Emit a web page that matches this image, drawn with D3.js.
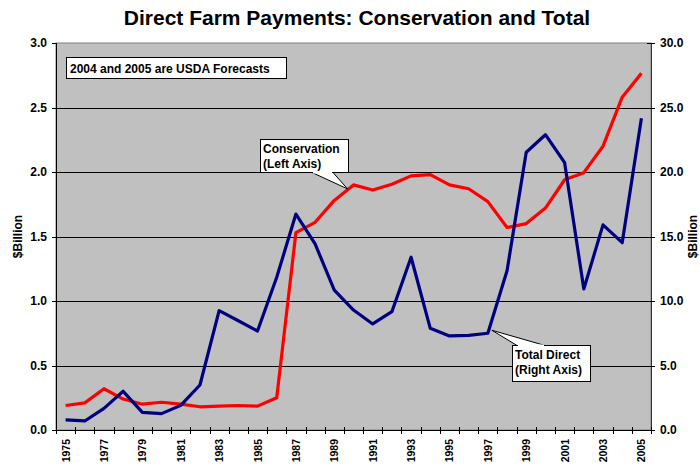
<!DOCTYPE html>
<html>
<head>
<meta charset="utf-8">
<script src="https://cdn.jsdelivr.net/npm/d3@7.9.0/dist/d3.min.js"></script>
<style>
  body { margin: 0; background: #fff; }
  svg { display: block; }
  text { font-family: "Liberation Sans", Arial, sans-serif; font-weight: bold; fill: #000; }
</style>
</head>
<body>
<svg id="chart" width="700" height="466"></svg>
<script>
const years = d3.range(1975, 2006);
// conservation payments, $ billion (left axis)
const conservation = [0.19, 0.21, 0.32, 0.24, 0.20, 0.215, 0.20, 0.18, 0.185, 0.19, 0.185, 0.25,
  1.53, 1.61, 1.78, 1.90, 1.86, 1.905, 1.97, 1.98, 1.90, 1.87, 1.77, 1.57, 1.60, 1.72, 1.94,
  1.995, 2.20, 2.58, 2.765];
// total direct payments, $ billion (right axis)
const totalDirect = [0.78, 0.70, 1.68, 3.0, 1.37, 1.27, 1.91, 3.49, 9.25, 8.47, 7.67, 11.84,
  16.74, 14.42, 10.85, 9.30, 8.22, 9.17, 13.39, 7.88, 7.29, 7.34, 7.50, 12.35, 21.53, 22.89,
  20.72, 10.93, 15.9, 14.52, 24.16];
const leftTicks = [0, 0.5, 1.0, 1.5, 2.0, 2.5, 3.0];
const rightTicks = [0, 5, 10, 15, 20, 25, 30];

const margin = { left: 56, right: 49, top: 43, bottom: 36 };
const W = 700, H = 466;
const svg = d3.select('#chart');

const x = d3.scaleLinear().domain([1974.5, 2005.5]).range([margin.left, W - margin.right]);
const yL = d3.scaleLinear().domain([0, 3]).range([H - margin.bottom, margin.top]);
const yR = d3.scaleLinear().domain([0, 30]).range([H - margin.bottom, margin.top]);

const x0 = margin.left, x1 = W - margin.right, yB = H - margin.bottom, yT = margin.top;

// title
svg.append('text')
  .attr('x', 357).attr('y', 25)
  .attr('text-anchor', 'middle')
  .style('font-size', '21px')
  .text('Direct Farm Payments: Conservation and Total');

// plot area
svg.append('rect')
  .attr('x', x0).attr('y', yT)
  .attr('width', x1 - x0).attr('height', yB - yT)
  .attr('fill', '#c0c0c0')
  .attr('stroke', '#808080');

// gridlines
svg.append('g')
  .selectAll('line')
  .data(leftTicks.slice(1, -1))
  .join('line')
  .attr('x1', x0).attr('x2', x1)
  .attr('y1', d => Math.round(yL(d)) + 0.5).attr('y2', d => Math.round(yL(d)) + 0.5)
  .attr('stroke', '#000');

// left axis
const gL = svg.append('g');
gL.append('line')
  .attr('x1', x0 + 0.5).attr('x2', x0 + 0.5).attr('y1', yT).attr('y2', yB)
  .attr('stroke', '#000');
gL.selectAll('.tk').data(leftTicks).join('line')
  .attr('x1', x0 - 4).attr('x2', x0 + 1)
  .attr('y1', d => Math.round(yL(d)) + 0.5).attr('y2', d => Math.round(yL(d)) + 0.5)
  .attr('stroke', '#000');
gL.selectAll('text').data(leftTicks).join('text')
  .attr('x', x0 - 9).attr('y', d => yL(d) + 4)
  .attr('text-anchor', 'end')
  .style('font-size', '12px')
  .text(d3.format('.1f'));

// right axis
const gR = svg.append('g');
gR.append('line')
  .attr('x1', x1 + 0.5).attr('x2', x1 + 0.5).attr('y1', yT).attr('y2', yB)
  .attr('stroke', '#333');
gR.selectAll('.tk').data(rightTicks).join('line')
  .attr('x1', x1 - 4).attr('x2', x1 + 4)
  .attr('y1', d => Math.round(yR(d)) + 0.5).attr('y2', d => Math.round(yR(d)) + 0.5)
  .attr('stroke', '#000');
gR.selectAll('text').data(rightTicks).join('text')
  .attr('x', x1 + 9).attr('y', d => yR(d) + 4)
  .style('font-size', '12px')
  .text(d3.format('.1f'));

// axis titles
svg.append('text')
  .attr('transform', `translate(22,${(yT + yB) / 2}) rotate(-90)`)
  .attr('text-anchor', 'middle')
  .style('font-size', '12px')
  .text('$Billion');
svg.append('text')
  .attr('transform', `translate(697,${(yT + yB) / 2}) rotate(-90)`)
  .attr('text-anchor', 'middle')
  .style('font-size', '12px')
  .text('$Billion');

// bottom axis
const gB = svg.append('g');
gB.append('line')
  .attr('x1', x0 - 4).attr('x2', x1 + 4).attr('y1', yB + 0.5).attr('y2', yB + 0.5)
  .attr('stroke', '#000');
gB.selectAll('.tk').data(d3.range(1974.5, 2006)).join('line')
  .attr('x1', d => Math.round(x(d)) + 0.5).attr('x2', d => Math.round(x(d)) + 0.5)
  .attr('y1', yB - 3).attr('y2', yB + 4)
  .attr('stroke', '#000');
gB.selectAll('text').data(years.filter(y => y % 2 === 1)).join('text')
  .attr('transform', d => `translate(${x(d) + 4},${yB + 9}) rotate(-90)`)
  .attr('text-anchor', 'end')
  .style('font-size', '10.5px')
  .text(d => d);

// lines
const lineL = d3.line().x((d, i) => x(years[i])).y(d => yL(d));
const lineR = d3.line().x((d, i) => x(years[i])).y(d => yR(d));

svg.append('path')
  .attr('d', lineL(conservation))
  .attr('fill', 'none').attr('stroke', '#ff0000')
  .attr('stroke-width', 3.2).attr('stroke-linejoin', 'round');
svg.append('path')
  .attr('d', lineR(totalDirect))
  .attr('fill', 'none').attr('stroke', '#000080')
  .attr('stroke-width', 3.2).attr('stroke-linejoin', 'round');

// forecast note
const note = svg.append('g');
note.append('rect')
  .attr('x', 66.5).attr('y', 57.5).attr('width', 220).attr('height', 21)
  .attr('fill', '#fff').attr('stroke', '#000');
note.append('text')
  .attr('x', 70).attr('y', 72.5)
  .style('font-size', '12px')
  .text('2004 and 2005 are USDA Forecasts');

// callouts
function callout(bx, by, bw, bh, base, tip, lines) {
  const g = svg.append('g');
  g.append('path')
    .attr('d', `M${base[0]},${base[1]}L${tip[0]},${tip[1]}L${base[2]},${base[1]}Z`)
    .attr('fill', '#fff').attr('stroke', '#000');
  g.append('rect')
    .attr('x', bx + 0.5).attr('y', by + 0.5).attr('width', bw).attr('height', bh)
    .attr('fill', '#fff').attr('stroke', '#000');
  // cover the box edge where the pointer joins
  g.append('line')
    .attr('x1', base[0] + 1).attr('x2', base[2] - 1)
    .attr('y1', base[1]).attr('y2', base[1])
    .attr('stroke', '#fff').attr('stroke-width', 2);
  g.selectAll('text').data(lines).join('text')
    .attr('x', bx + 3).attr('y', (d, i) => by + 14 + i * 14.5)
    .style('font-size', '12px')
    .text(d => d);
}

const cTip = [x(1990) - 6, yL(conservation[15]) + 4];
callout(260, 139, 88, 33, [312, 172.5, 333], cTip, ['Conservation', '(Left Axis)']);

const tTip = [x(1997) + 4, yR(totalDirect[22]) - 3];
callout(512, 345, 78, 36, [517, 345.5, 545], tTip, ['Total Direct', '(Right Axis)']);
</script>
</body>
</html>
